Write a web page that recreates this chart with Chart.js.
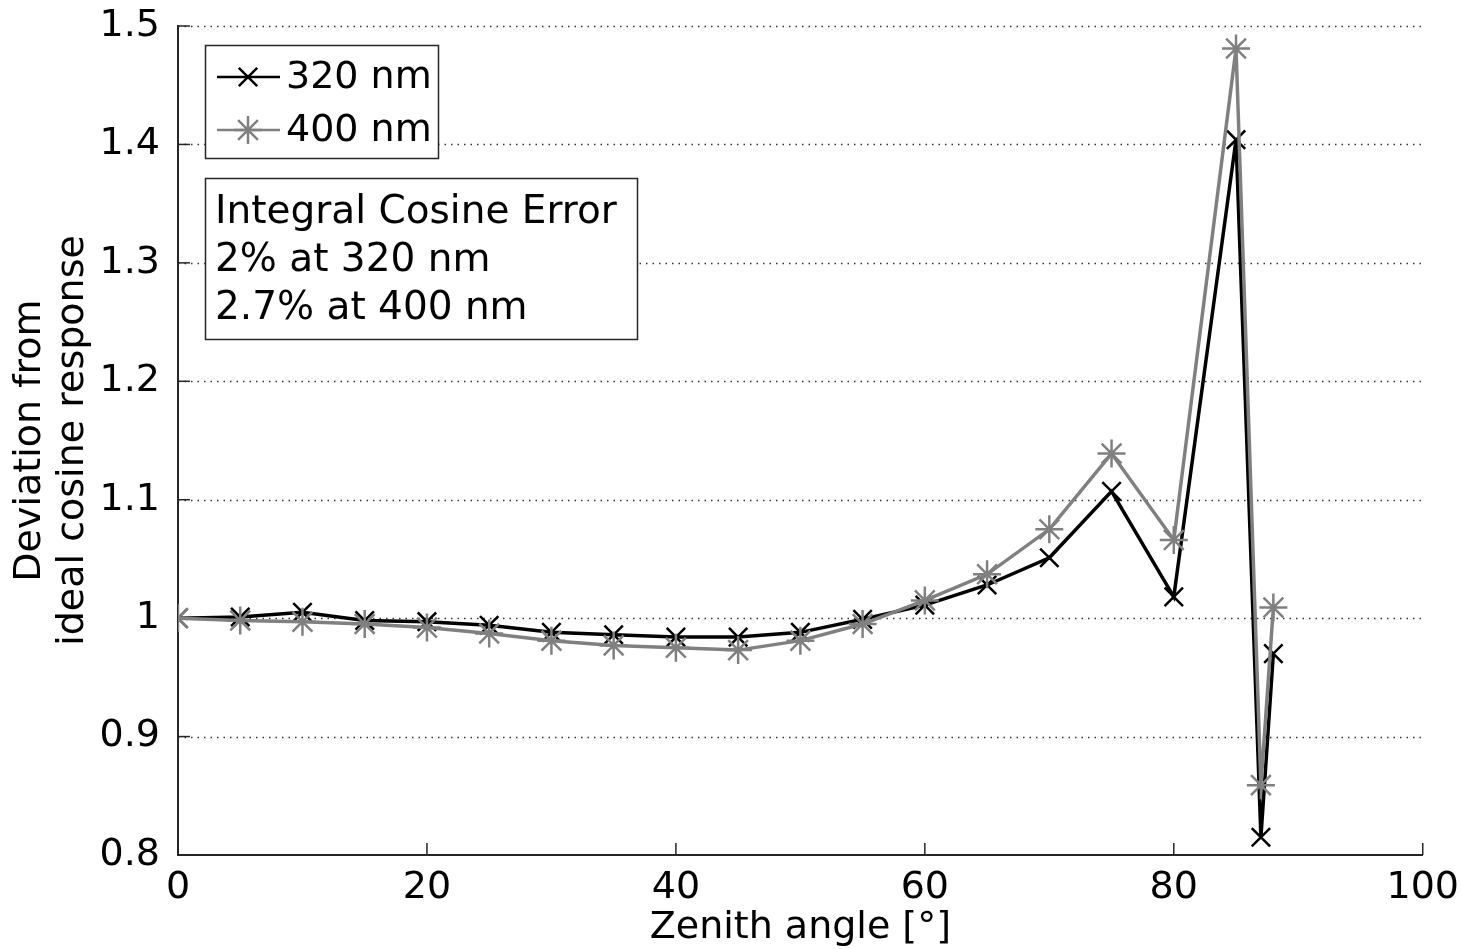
<!DOCTYPE html>
<html>
<head>
<meta charset="utf-8">
<script src="https://cdn.jsdelivr.net/npm/chart.js@4.4.1/dist/chart.umd.min.js"></script>
<style>
  html, body { margin: 0; padding: 0; background: #fff; }
  #wrap { width: 1461px; height: 949px; position: relative; }
</style>
</head>
<body>
<div id="wrap"><canvas id="cosChart"></canvas></div>
<script>
// zenith angles (deg)
const angles = [0, 5, 10, 15, 20, 25, 30, 35, 40, 45, 50, 55, 60, 65, 70, 75, 80, 85, 87, 88];
// deviation from ideal cosine response
const dev320 = [1.000, 1.001, 1.005, 0.998, 0.997, 0.994, 0.988, 0.986, 0.984, 0.984, 0.988, 0.999,
                1.011, 1.028, 1.051, 1.107, 1.018, 1.404, 0.815, 0.970];
const dev400 = [1.000, 0.998, 0.997, 0.995, 0.992, 0.987, 0.981, 0.977, 0.975, 0.973, 0.981, 0.995,
                1.015, 1.037, 1.075, 1.139, 1.066, 1.481, 0.859, 1.009];
const seriesLabels = ['320 nm', '400 nm'];
const noteLines = ['Integral Cosine Error', '2% at 320 nm', '2.7% at 400 nm'];

const FONT = "'DejaVu Sans', sans-serif";
const axisColor = '#262626';

function toPoints(ys) {
    return angles.map((a, i) => ({ x: a, y: ys[i] }));
}

// dotted grid lines and inward ticks, MATLAB style
const matlabAxes = {
    id: 'matlabAxes',
    beforeDatasetsDraw(chart) {
        const { ctx, chartArea, scales } = chart;
        const y = scales.y, x = scales.x;
        ctx.save();
        ctx.strokeStyle = '#333';
        ctx.lineWidth = 1.5;
        ctx.setLineDash([1.5, 5]);
        y.ticks.forEach(t => {
            if (t.value <= 0.8001) return;
            const py = Math.round(y.getPixelForValue(t.value)) + 0.5;
            ctx.beginPath();
            ctx.moveTo(chartArea.left, py);
            ctx.lineTo(chartArea.right, py);
            ctx.stroke();
        });
        ctx.setLineDash([]);
        ctx.strokeStyle = axisColor;
        ctx.lineWidth = 1.5;
        x.ticks.forEach(t => {
            const px = x.getPixelForValue(t.value);
            ctx.beginPath();
            ctx.moveTo(px, chartArea.bottom);
            ctx.lineTo(px, chartArea.bottom - 12);
            ctx.stroke();
        });
        y.ticks.forEach(t => {
            const py = y.getPixelForValue(t.value);
            ctx.beginPath();
            ctx.moveTo(chartArea.left, py);
            ctx.lineTo(chartArea.left + 12, py);
            ctx.stroke();
        });
        ctx.restore();
    },
    afterDraw(chart) {
        const { ctx } = chart;
        ctx.save();
        // legend box
        ctx.fillStyle = '#fff';
        ctx.strokeStyle = axisColor;
        ctx.lineWidth = 1.5;
        ctx.fillRect(205, 45, 233, 113);
        ctx.strokeRect(205.5, 45.5, 233, 113);
        ctx.font = '38px ' + FONT;
        ctx.textBaseline = 'middle';
        ctx.textAlign = 'left';
        chart.data.datasets.forEach((ds, i) => {
            const cy = 77 + i * 53;
            ctx.strokeStyle = ds.borderColor;
            ctx.lineWidth = 2.5;
            ctx.beginPath();
            ctx.moveTo(217, cy);
            ctx.lineTo(280, cy);
            ctx.stroke();
            Chart.helpers.drawPoint(ctx, {
                pointStyle: ds.pointStyle, radius: ds.pointRadius,
                rotation: 0, borderWidth: ds.pointBorderWidth
            }, 248, cy);
            ctx.fillStyle = '#000';
            ctx.fillText(ds.label, 286, cy + 1);
        });
        // note box
        ctx.fillStyle = '#fff';
        ctx.strokeStyle = axisColor;
        ctx.lineWidth = 1.5;
        ctx.fillRect(205, 178, 432, 161);
        ctx.strokeRect(205.5, 178.5, 432, 161);
        ctx.fillStyle = '#000';
        ctx.font = '39px ' + FONT;
        ctx.textBaseline = 'alphabetic';
        noteLines.forEach((line, i) => {
            ctx.fillText(line, 215, 223 + i * 48);
        });
        ctx.restore();
    }
};

const ctx = document.getElementById('cosChart').getContext('2d');
new Chart(ctx, {
    type: 'line',
    data: {
        datasets: [
            {
                label: seriesLabels[0],
                data: toPoints(dev320),
                borderColor: '#000000',
                backgroundColor: '#000000',
                borderWidth: 3.5,
                pointStyle: 'crossRot',
                pointRadius: 13,
                pointBorderWidth: 2.5,
                tension: 0,
                order: 1
            },
            {
                label: seriesLabels[1],
                data: toPoints(dev400),
                borderColor: '#808080',
                backgroundColor: '#808080',
                borderWidth: 3.5,
                pointStyle: 'star',
                pointRadius: 14,
                pointBorderWidth: 2.5,
                tension: 0,
                order: 0
            }
        ]
    },
    options: {
        responsive: true,
        maintainAspectRatio: false,
        animation: false,
        layout: { padding: { top: 26, right: 36, bottom: 0, left: 0 } },
        plugins: {
            legend: { display: false },
            tooltip: { enabled: false }
        },
        scales: {
            x: {
                type: 'linear',
                min: 0,
                max: 100,
                ticks: {
                    stepSize: 20,
                    color: '#000',
                    padding: 2,
                    font: { family: FONT, size: 38 }
                },
                grid: { display: false },
                border: { display: true, color: axisColor, width: 2 },
                title: {
                    display: true,
                    text: 'Zenith angle [°]',
                    color: '#000',
                    padding: 0,
                    font: { family: FONT, size: 38, lineHeight: 1.1 }
                },
                afterFit(scale) { scale.height = 94; }
            },
            y: {
                min: 0.8,
                max: 1.5,
                ticks: {
                    stepSize: 0.1,
                    color: '#000',
                    padding: 10,
                    font: { family: FONT, size: 38, lineHeight: 0.8 },
                    callback: v => String(+v.toFixed(1))
                },
                grid: { display: false },
                border: { display: true, color: axisColor, width: 2 },
                title: {
                    display: true,
                    text: ['Deviation from', 'ideal cosine response'],
                    color: '#000',
                    padding: { top: 8, bottom: 0 },
                    font: { family: FONT, size: 38, lineHeight: 1.15 }
                },
                afterFit(scale) { scale.width = 178; }
            }
        }
    },
    plugins: [matlabAxes]
});
</script>
</body>
</html>
